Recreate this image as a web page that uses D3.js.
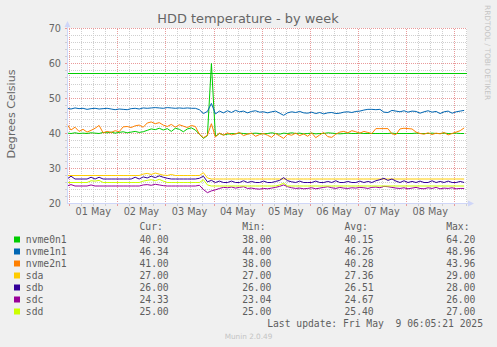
<!DOCTYPE html>
<html>
<head>
<meta charset="utf-8">
<script src="https://cdn.jsdelivr.net/npm/d3@7"></script>
<style>
body { margin: 0; background: #f0f0f0; }
svg { display: block; }
.hdd-title { font: 12.9px "DejaVu Sans"; fill: #666; }
.hdd-axis-lbl { font: 11.1px "DejaVu Sans"; fill: #666; }
.hdd-tick { font: 9.7px "DejaVu Sans"; fill: #666; }
.hdd-legend { font: 9.7px "DejaVu Sans Mono"; fill: #5e5e5e; white-space: pre; }
.hdd-small { font: 7.4px "DejaVu Sans"; fill: #c4c4c4; }
</style>
</head>
<body>
<svg id="fig_hddtemp"></svg>
<script>
'use strict';

// series, in munin draw order
const series_names = ['nvme0n1', 'nvme1n1', 'nvme2n1', 'sda', 'sdb', 'sdc', 'sdd'];
const series_colors = ['#00cc00', '#0066b3', '#ff8000', '#ffcc00', '#330099', '#990099', '#ccff00'];

// samples every 2 hours from 30 Apr 22:55 UTC
const temp_nvme0n1 = [
    40.1, 40.0, 40.2, 40.0, 40.1, 40.0, 40.2, 40.1, 40.0, 40.3,
    40.2, 40.4, 40.1, 40.3, 40.5, 40.2, 40.4, 40.6, 40.3, 40.5,
    40.9, 41.3, 41.1, 41.5, 41.0, 41.4, 40.6, 41.5, 41.2, 40.5,
    41.3, 41.6, 41.0, 39.8, 38.6, 39.4, 60.0, 39.2, 40.0, 39.6,
    39.8, 40.0, 39.9, 40.1, 40.0, 39.9, 40.0, 40.1, 40.0, 39.9,
    40.0, 40.2, 40.0, 39.8, 40.1, 40.0, 40.2, 40.0, 40.1, 39.9,
    40.0, 40.1, 39.9, 40.0, 40.0, 40.2, 40.1, 40.0, 39.9, 40.0,
    40.1, 40.0, 40.0, 40.1, 40.0, 40.0, 40.0, 40.0, 40.0, 40.0,
    40.0, 40.1, 40.0, 40.0, 40.0, 40.0, 40.0, 40.1, 40.0, 40.0,
    40.0, 40.1, 40.0, 40.0, 40.1, 40.0, 40.0, 40.1, 40.0, 40.0
];
const temp_nvme1n1 = [
    47.2, 47.0, 47.3, 47.1, 47.2, 46.9, 47.1, 47.2, 47.0, 47.1,
    47.2, 47.0, 46.8, 47.0, 46.9, 46.8, 47.1, 47.2, 47.0, 47.3,
    47.2, 47.3, 47.4, 47.3, 47.2, 47.4, 47.3, 47.2, 47.3, 47.2,
    47.3, 47.2, 47.2, 46.8, 45.7, 46.3, 48.6, 45.6, 46.4, 45.9,
    46.5, 46.0, 46.6, 46.2, 46.4, 45.9, 46.3, 46.5, 46.1, 46.2,
    45.9, 46.2, 46.4, 45.8, 45.2, 45.9, 46.2, 46.0, 46.3, 45.9,
    45.8, 46.1, 45.7, 46.0, 45.6, 45.9, 46.0, 45.7, 45.8, 46.1,
    46.2, 46.0, 46.3, 46.4, 46.7, 46.9, 46.9, 46.8, 46.9, 46.1,
    46.0, 46.6, 46.4, 46.2, 46.5, 46.1, 46.4, 46.3, 45.8, 46.2,
    46.5, 46.1, 46.3, 45.7, 46.2, 46.4, 45.8, 46.2, 46.4, 46.6
];
const temp_nvme2n1 = [
    42.6, 41.0, 41.8, 40.6, 41.2, 40.4, 40.9, 41.5, 42.3, 40.2,
    40.6, 40.3, 40.8, 40.5, 41.9, 42.0, 41.7, 42.2, 42.4, 41.8,
    43.0, 43.3, 42.8, 43.1, 42.4, 42.0, 42.6, 41.8, 42.5, 42.1,
    41.7, 42.3, 42.0, 39.8, 38.8, 39.5, 42.8, 39.0, 40.1, 39.5,
    40.2, 39.6, 39.9, 40.3, 39.4, 39.8, 40.1, 39.2, 39.7, 40.0,
    39.5, 38.9, 40.0, 39.3, 38.6, 39.8, 39.5, 40.1, 39.4, 39.9,
    39.2, 40.2, 38.8, 39.6, 40.3, 39.1, 38.9, 39.8, 40.4, 40.6,
    40.2, 40.8, 40.5, 40.1, 40.6, 40.3, 40.0, 41.4, 41.4, 41.4,
    41.4, 39.9, 39.7, 41.3, 41.5, 41.4, 41.3, 40.4, 40.0, 39.8,
    40.2, 39.7, 40.1, 39.9, 40.3, 39.6, 40.0, 40.4, 40.8, 41.6
];
const temp_sda = [
    28.0, 28.0, 28.0, 28.0, 28.0, 28.0, 28.0, 28.0, 28.0, 28.0,
    28.0, 28.0, 28.0, 28.0, 28.0, 28.0, 28.0, 28.0, 28.0, 28.4,
    28.6, 28.3, 28.7, 28.4, 28.1, 28.0, 28.3, 28.0, 28.0, 28.0,
    28.0, 28.0, 28.0, 28.0, 28.8, 27.3, 27.0, 27.0, 27.0, 27.0,
    27.0, 27.0, 27.0, 27.0, 27.0, 27.0, 27.0, 27.0, 27.0, 27.0,
    27.0, 27.0, 27.0, 27.0, 27.0, 27.0, 27.0, 27.0, 27.0, 27.0,
    27.0, 27.0, 27.0, 27.0, 27.0, 27.0, 27.0, 27.0, 27.0, 27.0,
    27.0, 27.0, 27.0, 27.0, 27.0, 27.0, 27.0, 27.0, 27.0, 27.0,
    27.0, 27.0, 27.0, 27.0, 27.0, 27.0, 27.0, 27.0, 27.0, 27.0,
    27.0, 27.0, 27.0, 27.0, 27.0, 27.0, 27.0, 27.0, 27.0, 27.0
];
const temp_sdb = [
    27.0, 27.8, 27.0, 27.0, 27.0, 27.0, 27.5, 27.0, 27.5, 27.0,
    27.0, 27.0, 27.0, 27.0, 27.0, 27.0, 27.0, 27.5, 27.0, 27.6,
    27.3, 27.8, 27.4, 27.9, 27.5, 27.2, 27.0, 27.0, 27.0, 27.0,
    27.0, 27.0, 27.0, 27.2, 27.8, 26.2, 26.6, 26.0, 26.4, 26.0,
    26.0, 26.4, 26.0, 26.0, 26.5, 26.0, 26.3, 26.0, 26.0, 26.4,
    26.0, 26.0, 26.3, 26.6, 27.4, 26.5, 26.2, 26.0, 26.4, 26.0,
    26.0, 26.0, 26.4, 26.0, 26.0, 26.3, 26.0, 26.5, 26.0, 26.0,
    26.3, 26.0, 26.0, 26.4, 26.0, 26.3, 26.0, 26.5, 26.8, 27.2,
    26.6, 27.0, 26.4, 26.0, 26.5, 26.0, 26.3, 26.0, 26.4, 26.0,
    26.0, 26.5, 26.0, 26.3, 26.0, 26.4, 26.0, 26.0, 26.3, 26.0
];
const temp_sdc = [
    25.0, 25.4, 25.0, 25.0, 25.0, 25.0, 25.3, 25.0, 25.0, 25.0,
    25.0, 25.0, 25.0, 25.0, 25.0, 25.0, 25.0, 25.0, 25.0, 25.3,
    25.4, 25.2, 25.5, 25.3, 25.1, 25.0, 25.0, 25.0, 25.0, 25.0,
    25.0, 25.0, 25.0, 25.2, 24.0, 23.1, 23.6, 23.9, 24.3, 24.6,
    24.5, 24.7, 24.4, 24.6, 24.8, 24.3, 24.4, 24.2, 24.1, 24.3,
    24.2, 24.4, 24.6, 24.9, 25.3, 24.8, 24.5, 24.3, 24.4, 24.2,
    24.3, 24.5, 24.2, 24.4, 24.6, 24.8, 24.5, 24.3, 24.6, 24.4,
    24.3, 24.5, 24.4, 24.6, 24.5, 24.3, 24.6, 24.7, 24.5, 24.9,
    24.8, 24.6, 24.4, 24.3, 24.5, 24.2, 24.4, 24.6, 24.3, 24.2,
    24.5, 24.3, 24.6, 24.2, 24.4, 24.3, 24.5, 24.2, 24.3, 24.3
];
const temp_sdd = [
    26.0, 26.0, 26.0, 26.0, 26.0, 26.0, 26.5, 26.4, 26.6, 26.0,
    26.0, 26.0, 26.0, 26.0, 26.0, 26.0, 26.0, 26.0, 26.0, 26.4,
    26.6, 26.8, 26.5, 26.9, 26.4, 26.0, 26.0, 26.0, 26.0, 26.0,
    26.0, 26.0, 26.0, 26.0, 26.8, 25.3, 25.0, 25.0, 25.0, 25.0,
    25.0, 25.0, 25.0, 25.0, 25.0, 25.0, 25.0, 25.0, 25.0, 25.0,
    25.0, 25.0, 25.0, 25.3, 25.8, 25.0, 25.0, 25.0, 25.0, 25.0,
    25.0, 25.0, 25.0, 25.0, 25.0, 25.0, 25.0, 25.0, 25.0, 25.0,
    25.0, 25.0, 25.0, 25.0, 25.0, 25.0, 25.0, 25.0, 25.0, 25.0,
    25.0, 25.0, 25.0, 25.0, 25.0, 25.0, 25.0, 25.0, 25.0, 25.0,
    25.0, 25.0, 25.0, 25.0, 25.0, 25.0, 25.0, 25.0, 25.0, 25.0
];

// legend numbers
const cur_vals = [40.00, 46.34, 41.00, 27.00, 26.00, 24.33, 25.00];
const min_vals = [38.00, 44.00, 38.00, 27.00, 26.00, 23.04, 25.00];
const avg_vals = [40.15, 46.26, 40.28, 27.36, 26.51, 24.67, 25.40];
const max_vals = [64.20, 48.96, 43.96, 29.00, 28.00, 26.00, 27.00];

// horizontal rule
const hrule_vals = [57.14];
const y_ticks = [20, 30, 40, 50, 60, 70];
const x_days = ['2025-05-01', '2025-05-02', '2025-05-03', '2025-05-04',
                '2025-05-05', '2025-05-06', '2025-05-07', '2025-05-08'];

const fig = {
    width: 497,
    height: 347,
    left: 67,
    right: 467,
    top: 28.5,
    bottom: 203.5,
    t_start: Date.UTC(2025, 3, 30, 22, 55),
    t_end: Date.UTC(2025, 4, 9, 6, 20),
    step_ms: 2 * 3600 * 1000,
    legend_top: 227,
    legend_h: 12
};

const temps = [temp_nvme0n1, temp_nvme1n1, temp_nvme2n1, temp_sda, temp_sdb, temp_sdc, temp_sdd];

const svg = d3.select('#fig_hddtemp')
    .attr('width', fig.width)
    .attr('height', fig.height);

svg.append('rect')
    .attr('width', fig.width).attr('height', fig.height)
    .attr('fill', '#f0f0f0');
svg.append('rect')
    .attr('x', fig.left).attr('y', 28)
    .attr('width', fig.right - fig.left).attr('height', 203 - 28)
    .attr('fill', '#ffffff');

const x_scale = d3.scaleUtc()
    .domain([fig.t_start, fig.t_end])
    .range([fig.left, fig.right]);
const y_scale = d3.scaleLinear()
    .domain([20, 70])
    .range([fig.bottom, fig.top]);

// grid - minor then major
const g_grid = svg.append('g').attr('shape-rendering', 'crispEdges');
const hours = d3.utcHour.every(6).range(new Date(fig.t_start), new Date(fig.t_end));
hours.forEach(function(h) {
    const major = h.getUTCHours() === 0;
    const xx = Math.round(x_scale(h)) + 0.5;
    g_grid.append('line')
        .attr('x1', xx).attr('x2', xx)
        .attr('y1', fig.top).attr('y2', fig.bottom)
        .attr('stroke', major ? '#e99a9a' : '#cfcfcf')
        .attr('stroke-dasharray', '1,1');
    g_grid.append('line')
        .attr('x1', xx).attr('x2', xx)
        .attr('y1', fig.bottom).attr('y2', fig.bottom + 2)
        .attr('stroke', major ? '#e99a9a' : '#cfcfcf');
});
d3.range(22, 71, 2).forEach(function(v) {
    const major = v % 10 === 0;
    const yy = y_scale(v);
    g_grid.append('line')
        .attr('x1', fig.left).attr('x2', fig.right)
        .attr('y1', yy).attr('y2', yy)
        .attr('stroke', major ? '#e99a9a' : '#cfcfcf')
        .attr('stroke-dasharray', '1,1');
    g_grid.append('line')
        .attr('x1', fig.left - 2).attr('x2', fig.left)
        .attr('y1', yy).attr('y2', yy)
        .attr('stroke', major ? '#e99a9a' : '#cfcfcf');
});

// data lines
const line = d3.line()
    .x((d, i) => x_scale(fig.t_start + i * fig.step_ms))
    .y(d => y_scale(d));
temps.forEach(function(vals, k) {
    svg.append('path')
        .datum(vals)
        .attr('class', 'hdd-line hdd-' + series_names[k])
        .attr('fill', 'none')
        .attr('stroke', series_colors[k])
        .attr('stroke-width', 1)
        .attr('d', line);
});

// hrule
hrule_vals.forEach(function(v) {
    svg.append('line')
        .attr('x1', fig.left).attr('x2', fig.right)
        .attr('y1', y_scale(v)).attr('y2', y_scale(v))
        .attr('stroke', series_colors[0])
        .attr('shape-rendering', 'crispEdges');
});

// axes and arrows
const axis_col = '#cfd6f8';
svg.append('line')
    .attr('x1', fig.left + 0.5).attr('x2', fig.left + 0.5)
    .attr('y1', fig.bottom).attr('y2', 24)
    .attr('stroke', axis_col);
svg.append('line')
    .attr('x1', fig.left).attr('x2', fig.right + 3)
    .attr('y1', fig.bottom).attr('y2', fig.bottom)
    .attr('stroke', axis_col);
svg.append('path')
    .attr('d', 'M64.5,27L70.5,27L67.5,21Z')
    .attr('fill', axis_col);
svg.append('path')
    .attr('d', 'M468,200.5L468,206.5L474,203.5Z')
    .attr('fill', axis_col);

// tick labels
svg.selectAll('.hdd-ytick')
    .data(y_ticks)
    .enter()
    .append('text')
    .attr('class', 'hdd-tick hdd-ytick')
    .attr('x', 61)
    .attr('y', d => y_scale(d))
    .attr('dy', '0.36em')
    .attr('text-anchor', 'end')
    .text(d => d);

const fmt_day = d3.utcFormat('%d %b');
svg.selectAll('.hdd-xtick')
    .data(x_days)
    .enter()
    .append('text')
    .attr('class', 'hdd-tick hdd-xtick')
    .attr('x', d => x_scale(d3.utcHour.offset(new Date(d + 'T00:00:00Z'), 12)))
    .attr('y', 215)
    .attr('text-anchor', 'middle')
    .text(d => fmt_day(new Date(d + 'T00:00:00Z')));

// titles
svg.append('text').attr('class', 'hdd-title')
    .attr('x', 248).attr('y', 23)
    .attr('text-anchor', 'middle')
    .text('HDD temperature - by week');
svg.append('text').attr('class', 'hdd-axis-lbl')
    .attr('transform', 'translate(14.5, 114) rotate(-90)')
    .attr('text-anchor', 'middle')
    .text('Degrees Celsius');
svg.append('text').attr('class', 'hdd-small')
    .attr('transform', 'translate(485, 5) rotate(90)')
    .text('RRDTOOL / TOBI OETIKER');

// legend
const cols = [[139.5, 'Cur:', cur_vals], [242.2, 'Min:', min_vals],
              [344.5, 'Avg:', avg_vals], [446.2, 'Max:', max_vals]];
cols.forEach(function(c) {
    svg.append('text').attr('class', 'hdd-legend')
        .attr('x', c[0]).attr('y', fig.legend_top).attr('dy', '0.36em')
        .text(c[1]);
});
const rows = svg.selectAll('.hdd-legend-row')
    .data(series_names)
    .enter()
    .append('g')
    .attr('class', 'hdd-legend-row')
    .attr('transform', (d, i) => 'translate(0,' + (fig.legend_top + 12.5 + i * fig.legend_h) + ')');
rows.append('rect')
    .attr('x', 14).attr('y', -3)
    .attr('width', 6).attr('height', 6)
    .attr('fill', (d, i) => series_colors[i]);
rows.append('text').attr('class', 'hdd-legend')
    .attr('x', 25.8).attr('dy', '0.36em')
    .text(d => d);
cols.forEach(function(c) {
    rows.append('text').attr('class', 'hdd-legend')
        .attr('x', c[0]).attr('dy', '0.36em')
        .text((d, i) => c[2][i].toFixed(2));
});

svg.append('text').attr('class', 'hdd-legend')
    .attr('x', 483).attr('y', 324).attr('dy', '0.36em')
    .attr('text-anchor', 'end')
    .text('Last update: Fri May  9 06:05:21 2025');
svg.append('text').attr('class', 'hdd-small')
    .attr('x', 248.5).attr('y', 338.5)
    .attr('text-anchor', 'middle')
    .style('font-size', '7.3px')
    .text('Munin 2.0.49');
</script>
</body>
</html>
